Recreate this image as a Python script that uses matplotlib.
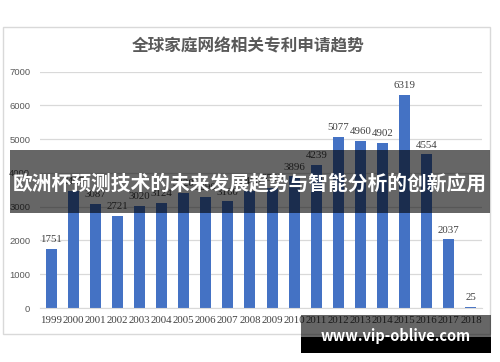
import matplotlib.pyplot as plt
from matplotlib.patches import Rectangle

years = ['1999', '2000', '2001', '2002', '2003', '2004', '2005', '2006', '2007', '2008',
         '2009', '2010', '2011', '2012', '2013', '2014', '2015', '2016', '2017', '2018']
patents = [1751, 3467, 3087, 2721, 3020, 3124, 3420, 3290, 3160, 3480,
           3560, 3896, 4239, 5077, 4960, 4902, 6319, 4554, 2037, 25]
yticks = [0, 1000, 2000, 3000, 4000, 5000, 6000, 7000]

title = '全球家庭网络相关专利申请趋势'
banner = '欧洲杯预测技术的未来发展趋势与智能分析的创新应用'
watermark = 'www.vip-oblive.com'

W, H = 500, 362
fig = plt.figure(figsize=(W / 100, H / 100), dpi=100)

def fx(px):
    return px / W

def fy(py):
    return 1 - py / H

# chart frame
fig.patches.append(Rectangle((fx(3), fy(334)), fx(487), (334 - 27) / H, transform=fig.transFigure,
                             fill=False, edgecolor='#d9d9d9', linewidth=1, zorder=0))

fig.text(fx(248), fy(46), title, ha='center', va='center', fontsize=12, color='#595959',
         family=['Noto Sans CJK SC', 'DejaVu Sans'], fontweight='bold')

ax = fig.add_axes([fx(40), fy(308), fx(442), (308 - 71.7) / H])
x = range(len(years))
bars = ax.bar(x, patents, width=0.5, color='#4472C4', zorder=2)
for xi, v in zip(x, patents):
    ax.text(xi, v + 140, str(v), ha='center', va='bottom', fontsize=7.8,
            family='Liberation Serif', color='#404040')

ax.set_xlim(-0.5, len(years) - 0.5)
ax.set_ylim(0, 7000)
ax.set_yticks(yticks)
ax.set_yticklabels([str(t) for t in yticks], family='Liberation Sans', fontsize=6.8, color='#595959')
ax.set_xticks(list(x))
ax.set_xticklabels(years, family='Liberation Serif', fontsize=7.8, color='#404040')
ax.tick_params(axis='both', length=0)
ax.tick_params(axis='y', pad=7)
ax.tick_params(axis='x', pad=6)
ax.grid(axis='y', color='#d9d9d9', linewidth=0.9, zorder=0)
for side in ['top', 'right', 'left']:
    ax.spines[side].set_visible(False)
ax.spines['bottom'].set_color('#d9d9d9')

# dark banner with overlay text
fig.patches.append(Rectangle((fx(10), fy(213)), fx(480), (213 - 150) / H, transform=fig.transFigure,
                             facecolor='black', alpha=0.6, edgecolor='none', zorder=5))
fig.text(fx(250), fy(184), banner, ha='center', va='center', fontsize=14.2, color='white',
         fontweight='bold', family=['Noto Sans CJK SC', 'DejaVu Sans'], zorder=6)

# watermark box
fig.patches.append(Rectangle((fx(301), fy(337)), fx(190), 22 / H, transform=fig.transFigure,
                             facecolor='black', alpha=0.6, edgecolor='none', zorder=5))
fig.patches.append(Rectangle((fx(301), fy(353)), fx(190), 16 / H, transform=fig.transFigure,
                             facecolor='black', edgecolor='none', zorder=5))
fig.text(fx(396), fy(336), watermark, ha='center', va='center', fontsize=10.5, color='white',
         fontweight='bold', family=['Noto Sans CJK SC', 'DejaVu Sans'], zorder=6)

fig.savefig('out.png', dpi=100)
